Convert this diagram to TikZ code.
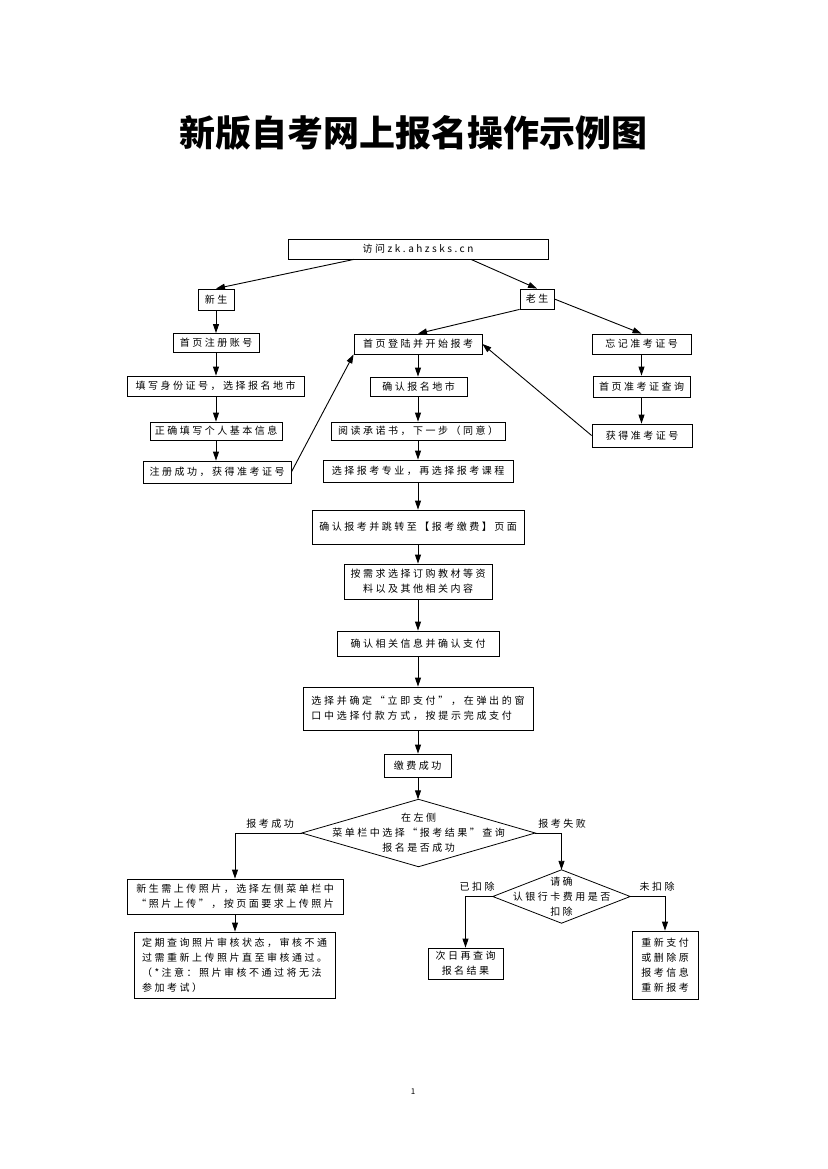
\documentclass[tikz,border=0pt]{standalone}
\usepackage{fontspec}
\usetikzlibrary{arrows.meta}
\setmainfont{Noto Sans CJK SC}
\newfontfamily\cjkbox{Noto Sans CJK SC}[LetterSpace=25]
\newfontfamily\cjkttl{Noto Sans CJK SC}
\tikzset{
  bx/.style={draw, line width=0.8pt, inner sep=0pt, align=center, font=\cjkbox\fontsize{10}{15}\selectfont},
  bxl/.style={bx, align=left},
  plain/.style={inner sep=0pt, align=center, font=\cjkbox\fontsize{10}{15}\selectfont},
  lbl/.style={inner sep=0pt, font=\cjkbox\fontsize{10}{12}\selectfont},
  arr/.style={-{Triangle[length=9pt,width=6pt]}, line width=0.9pt},
  dline/.style={line width=0.8pt}
}
\begin{document}
\begin{tikzpicture}[x=1pt,y=-1pt]
\fill[white] (0,0) rectangle (827,1169);
\useasboundingbox (0,0) rectangle (827,1169);

\node[inner sep=0pt, font=\cjkttl\bfseries\fontsize{36}{40}\selectfont] (title) at (413,133) {新版自考网上报名操作示例图};

\node[bx, minimum width=260pt, minimum height=20pt] (visit) at (418,249) {访问zk.ahzsks.cn};
\node[bx, minimum width=36pt, minimum height=21pt] (xs) at (216,299.5) {新生};
\node[bx, minimum width=34pt, minimum height=20pt] (ls) at (537,299) {老生};

\node[bx, minimum width=86pt, minimum height=19pt] (zc1) at (216,343) {首页注册账号};
\node[bx, minimum width=177pt, minimum height=20pt] (zc2) at (215.5,386) {填写身份证号，选择报名地市};
\node[bx, minimum width=132pt, minimum height=18pt] (zc3) at (216,431) {正确填写个人基本信息};
\node[bx, minimum width=148pt, minimum height=22pt] (zc4) at (217,472) {注册成功，获得准考证号};

\node[bx, minimum width=128pt, minimum height=20pt] (m1) at (418,344) {首页登陆并开始报考};
\node[bx, minimum width=97pt, minimum height=19pt] (m2) at (418.5,386.5) {确认报名地市};
\node[bx, minimum width=174pt, minimum height=18pt] (m3) at (418,431) {阅读承诺书，下一步（同意）};
\node[bx, minimum width=190pt, minimum height=22pt] (m4) at (418,471) {选择报考专业，再选择报考课程};

\node[bx, minimum width=99pt, minimum height=20pt] (r1) at (641.5,344) {忘记准考证号};
\node[bx, minimum width=97pt, minimum height=21pt] (r2) at (641.5,386.5) {首页准考证查询};
\node[bx, minimum width=100pt, minimum height=23pt] (r3) at (642,435.5) {获得准考证号};

\node[bx, minimum width=212pt, minimum height=34pt] (m5) at (418,527) {确认报考并跳转至【报考缴费】页面};
\node[bx, minimum width=148pt, minimum height=35pt] (m6) at (418,581.5) {按需求选择订购教材等资\\料以及其他相关内容};
\node[bx, minimum width=162pt, minimum height=25pt] (m7) at (418,643.5) {确认相关信息并确认支付};
\node[bxl, minimum width=230pt, minimum height=43pt, font=\cjkbox\addfontfeatures{LetterSpace=27}\fontsize{10}{15}\selectfont] (m8) at (418,708.5) {选择并确定“立即支付”，在弹出的窗\\口中选择付款方式，按提示完成支付};
\node[bx, minimum width=67pt, minimum height=23pt] (m9) at (417.5,765.5) {缴费成功};

\node[plain, minimum width=233pt, minimum height=67pt] (d1) at (418.5,833) {在左侧\\菜单栏中选择“报考结果”查询\\报名是否成功};
\draw[dline] (d1.north) -- (d1.east) -- (d1.south) -- (d1.west) -- cycle;

\node[plain, minimum width=137pt, minimum height=53pt] (d2) at (561.5,896.5) {请确\\认银行卡费用是否\\扣除};
\draw[dline] (d2.north) -- (d2.east) -- (d2.south) -- (d2.west) -- cycle;

\node[bx, minimum width=216pt, minimum height=35pt] (b1) at (235,896.5) {新生需上传照片，选择左侧菜单栏中\\“照片上传”，按页面要求上传照片};
\node[bxl, minimum width=201pt, minimum height=66pt] (b2) at (234.5,965) {定期查询照片审核状态，审核不通\\过需重新上传照片直至审核通过。\\（*注意：照片审核不通过将无法\\参加考试）};
\node[bx, minimum width=75pt, minimum height=31pt] (b3) at (465.5,963.5) {次日再查询\\报名结果};
\node[bx, minimum width=66pt, minimum height=68pt] (b4) at (665,965) {重新支付\\或删除原\\报考信息\\重新报考};

\node[lbl] (l1) at (270,824) {报考成功};
\node[lbl] (l2) at (562,824) {报考失败};
\node[lbl] (l3) at (477,887) {已扣除};
\node[lbl] (l4) at (657,887) {未扣除};

\node[inner sep=0pt, font=\fontsize{8}{10}\selectfont] (pg) at (413,1092) {1};

% connectors
\draw[arr] ([xshift=-64pt]visit.south) -- (xs.north);
\draw[arr] ([xshift=53pt]visit.south) -- (ls.north);
\draw[arr] (ls.south west) -- (m1.north);
\draw[arr] (ls.east) -- (r1.north);

\draw[arr] (xs.south) -- (xs.south |- zc1.north);
\draw[arr] (zc1.south) -- (zc1.south |- zc2.north);
\draw[arr] (zc1.south |- zc2.south) -- (zc1.south |- zc3.north);
\draw[arr] (zc1.south |- zc3.south) -- (zc1.south |- zc4.north);
\draw[arr] (zc4.east) -- (m1.south west);

\draw[arr] (m1.south) -- (m1.south |- m2.north);
\draw[arr] (m1.south |- m2.south) -- (m1.south |- m3.north);
\draw[arr] (m1.south |- m3.south) -- (m1.south |- m4.north);
\draw[arr] (m1.south |- m4.south) -- (m1.south |- m5.north);
\draw[arr] (m1.south |- m5.south) -- (m1.south |- m6.north);
\draw[arr] (m1.south |- m6.south) -- (m1.south |- m7.north);
\draw[arr] (m1.south |- m7.south) -- (m1.south |- m8.north);
\draw[arr] (m1.south |- m8.south) -- (m1.south |- m9.north);
\draw[arr] (m1.south |- m9.south) -- (m1.south |- d1.north);

\draw[arr] (r1.south) -- (r1.south |- r2.north);
\draw[arr] (r1.south |- r2.south) -- (r1.south |- r3.north);
\draw[arr] (r3.west) -- (m1.east);

\draw[arr] (d1.west) -| (b1.north);
\draw[arr] (d1.east) -| (d2.north);
\draw[arr] (b1.south) -- (b1.south |- b2.north);
\draw[arr] (d2.west) -| (b3.north);
\draw[arr] (d2.east) -| (b4.north);
\end{tikzpicture}
\end{document}
